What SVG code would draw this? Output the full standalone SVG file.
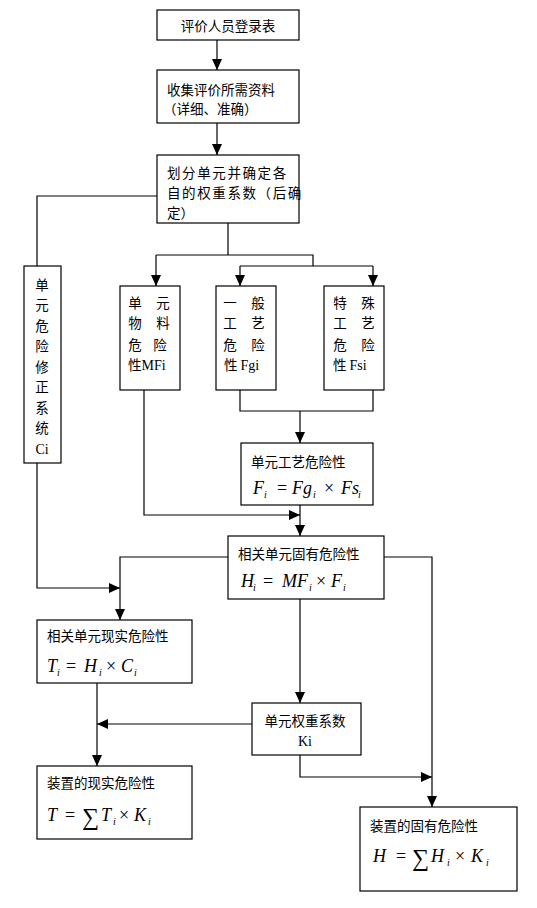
<svg xmlns="http://www.w3.org/2000/svg" width="537" height="908" viewBox="0 0 537 908">
<defs>
<marker id="ah" markerUnits="userSpaceOnUse" markerWidth="11" markerHeight="10" refX="11" refY="5" orient="auto">
<path d="M0,0 L11,5 L0,10 z" fill="#000"/>
</marker>
<style>
rect{fill:#fff;stroke:#000;stroke-width:1.2}
.c path{fill:none;stroke:#000;stroke-width:1.2}
.a{marker-end:url(#ah)}
text{font-family:"Noto Sans CJK SC","Liberation Sans",sans-serif;font-size:13.5px;fill:#000}
.m{font-family:"Liberation Serif",serif;font-style:italic;font-size:18px}
.s{font-family:"Liberation Serif",serif;font-style:italic;font-size:10px}
.r{font-family:"Liberation Serif",serif;font-size:14px}
.mid{text-anchor:middle}
</style>
</defs>
<rect x="0" y="0" width="537" height="908" style="stroke:none"/>
<g class="c">
<path class="a" d="M217,40 V70"/>
<path class="a" d="M217,123 V155"/>
<path d="M157,196 H37 V266"/>
<path d="M228,223 V255 M156,255 H313 V266 M240,266 H373"/>
<path class="a" d="M156,255 V286"/>
<path class="a" d="M240,266 V286"/>
<path class="a" d="M373,266 V286"/>
<path class="a" d="M144,390 V515 H300"/>
<path d="M240,390 V411 H373 V390"/>
<path class="a" d="M300,411 V443"/>
<path class="a" d="M300,505 V536"/>
<path class="a" d="M228,557 H120 V620"/>
<path class="a" d="M37,463 V588 H120"/>
<path class="a" d="M384,557 H432 V807"/>
<path class="a" d="M300,599 V703"/>
<path class="a" d="M252,724 H97"/>
<path class="a" d="M97,683 V766"/>
<path class="a" d="M300,755 V777 H432"/>
</g>
<g id="n1"><rect x="157" y="10" width="142" height="30"/><text x="228" y="31" class="mid">评价人员登录表</text></g>
<g id="n2"><rect x="157" y="70" width="142" height="53"/><text x="167" y="95">收集评价所需资料</text><text x="163" y="114">（详细、准确）</text></g>
<g id="n3"><rect x="157" y="155" width="142" height="68"/><text x="167" y="178" letter-spacing="1.6">划分单元并确定各</text><text x="167" y="198" letter-spacing="1.6">自的权重系数（后确</text><text x="167" y="218">定）</text></g>
<g id="n4"><rect x="24" y="266" width="37" height="197"/>
<text x="42" y="290" class="mid">单</text><text x="42" y="310" class="mid">元</text><text x="42" y="331" class="mid">危</text><text x="42" y="351" class="mid">险</text><text x="42" y="372" class="mid">修</text><text x="42" y="392" class="mid">正</text><text x="42" y="413" class="mid">系</text><text x="42" y="433" class="mid">统</text><text x="42" y="454" class="mid r">Ci</text></g>
<g id="n5"><rect x="120" y="286" width="60" height="104"/>
<text x="135" y="308" class="mid">单</text><text x="163" y="308" class="mid">元</text>
<text x="135" y="328" class="mid">物</text><text x="163" y="328" class="mid">料</text>
<text x="135" y="350" class="mid">危</text><text x="160" y="350" class="mid">险</text>
<text x="128" y="370">性<tspan class="r">MFi</tspan></text></g>
<g id="n6"><rect x="216" y="286" width="60" height="104"/>
<text x="230" y="308" class="mid">一</text><text x="258" y="308" class="mid">般</text>
<text x="230" y="328" class="mid">工</text><text x="258" y="328" class="mid">艺</text>
<text x="230" y="350" class="mid">危</text><text x="258" y="350" class="mid">险</text>
<text x="224" y="370">性 <tspan class="r">Fgi</tspan></text></g>
<g id="n7"><rect x="324" y="286" width="60" height="104"/>
<text x="340" y="308" class="mid">特</text><text x="368" y="308" class="mid">殊</text>
<text x="340" y="328" class="mid">工</text><text x="368" y="328" class="mid">艺</text>
<text x="340" y="350" class="mid">危</text><text x="368" y="350" class="mid">险</text>
<text x="333" y="370">性 <tspan class="r">Fsi</tspan></text></g>
<g id="n8"><rect x="241" y="443" width="132" height="62"/>
<text x="251" y="467">单元工艺危险性</text>
<text y="494"><tspan x="253" class="m">F</tspan><tspan x="264" y="498" class="s">i</tspan><tspan x="277" y="494" class="m" style="font-style:normal">=</tspan><tspan x="292" class="m">Fg</tspan><tspan x="313" y="498" class="s">i</tspan><tspan x="324" y="494" class="m" style="font-style:normal">×</tspan><tspan x="341" class="m">Fs</tspan><tspan x="358" y="498" class="s">i</tspan></text></g>
<g id="n9"><rect x="228" y="536" width="156" height="63"/>
<text x="238" y="559">相关单元固有危险性</text>
<text y="587"><tspan x="241" class="m">H</tspan><tspan x="253" y="591" class="s">i</tspan><tspan x="263" y="587" class="m" style="font-style:normal">=</tspan><tspan x="282" class="m">MF</tspan><tspan x="309" y="591" class="s">i</tspan><tspan x="316" y="587" class="m" style="font-style:normal">×</tspan><tspan x="331" class="m">F</tspan><tspan x="343" y="591" class="s">i</tspan></text></g>
<g id="n10"><rect x="37" y="620" width="155" height="63"/>
<text x="47" y="641">相关单元现实危险性</text>
<text y="672"><tspan x="47" class="m">T</tspan><tspan x="57" y="676" class="s">i</tspan><tspan x="66" y="672" class="m" style="font-style:normal">=</tspan><tspan x="84" class="m">H</tspan><tspan x="99" y="676" class="s">i</tspan><tspan x="106" y="672" class="m" style="font-style:normal">×</tspan><tspan x="121" class="m">C</tspan><tspan x="134" y="676" class="s">i</tspan></text></g>
<g id="n11"><rect x="252" y="703" width="109" height="52"/>
<text x="305" y="726" class="mid">单元权重系数</text>
<text x="305" y="746" class="mid r">Ki</text></g>
<g id="n12"><rect x="37" y="766" width="155" height="73"/>
<text x="47" y="788">装置的现实危险性</text>
<text y="821"><tspan x="47" class="m">T</tspan><tspan x="65" class="m" style="font-style:normal">=</tspan><tspan x="82" y="825" class="m" style="font-style:normal;font-size:24px">∑</tspan><tspan x="101" y="821" class="m">T</tspan><tspan x="113" y="825" class="s">i</tspan><tspan x="119" y="821" class="m" style="font-style:normal">×</tspan><tspan x="134" class="m">K</tspan><tspan x="148" y="825" class="s">i</tspan></text></g>
<g id="n13"><rect x="360" y="807" width="157" height="84"/>
<text x="370" y="831">装置的固有危险性</text>
<text y="862"><tspan x="373" class="m">H</tspan><tspan x="396" class="m" style="font-style:normal">=</tspan><tspan x="412" y="866" class="m" style="font-style:normal;font-size:24px">∑</tspan><tspan x="431" y="862" class="m">H</tspan><tspan x="447" y="866" class="s">i</tspan><tspan x="455" y="862" class="m" style="font-style:normal">×</tspan><tspan x="471" class="m">K</tspan><tspan x="486" y="866" class="s">i</tspan></text></g>
</svg>
